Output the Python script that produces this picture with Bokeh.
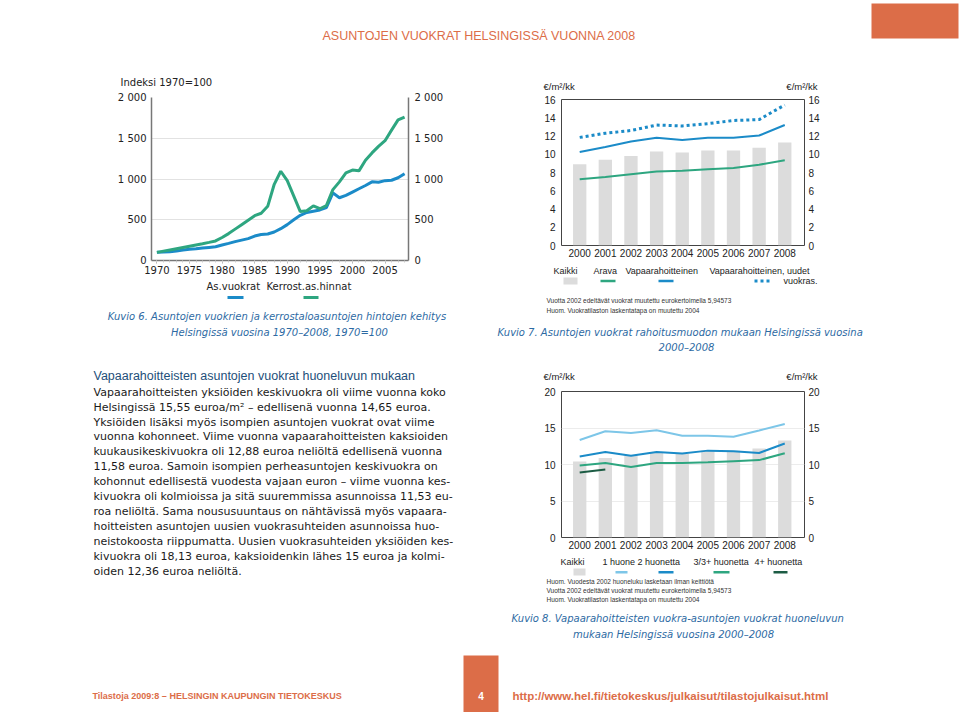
from bokeh.plotting import figure
from bokeh.models import Range1d, LinearAxis, FixedTicker
from bokeh.layouts import column, row
from bokeh.embed import file_html
from bokeh.resources import INLINE
from bokeh.core.properties import value

# ---------------- data ----------------
years_idx = list(range(1970, 2009))
rent_index = [100, 103, 108, 115, 128, 138, 143, 152, 160, 168,
              190, 210, 232, 250, 268, 300, 318, 325, 350, 390,
              440, 500, 555, 590, 605, 620, 650, 830, 770, 800,
              840, 880, 920, 965, 960, 980, 985, 1015, 1065]
price_index = [100, 115, 130, 145, 160, 175, 190, 205, 222, 240,
               282, 330, 385, 440, 495, 550, 580, 665, 935, 1095,
               980, 790, 600, 610, 670, 635, 675, 870, 965, 1075,
               1110, 1100, 1230, 1320, 1400, 1470, 1600, 1725, 1760]
idx_ticks = [0, 500, 1000, 1500, 2000]
idx_labels = {0: "0", 500: "500", 1000: "1 000", 1500: "1 500", 2000: "2 000"}

years = [2000, 2001, 2002, 2003, 2004, 2005, 2006, 2007, 2008]
kaikki7 = [8.9, 9.4, 9.8, 10.3, 10.2, 10.4, 10.4, 10.7, 11.3]
arava = [7.25, 7.5, 7.8, 8.1, 8.2, 8.35, 8.5, 8.85, 9.35]
vapaa = [10.25, 10.8, 11.4, 11.8, 11.55, 11.8, 11.8, 12.05, 13.2]
vapaa_uudet = [11.85, 12.3, 12.6, 13.2, 13.1, 13.35, 13.7, 13.8, 15.4]

kaikki8 = [10.4, 10.9, 11.3, 11.7, 11.45, 11.9, 11.9, 12.2, 13.3]
huone1 = [13.35, 14.55, 14.3, 14.7, 13.95, 13.95, 13.8, 14.65, 15.55]
huone2 = [11.1, 11.7, 11.2, 11.7, 11.5, 11.9, 11.8, 11.58, 12.88]
huone3 = [9.85, 10.2, 9.65, 10.2, 10.2, 10.3, 10.45, 10.6, 11.53]
years4 = [2000, 2001]
huone4 = [8.9, 9.3]

body_lines = [
    "Vapaarahoitteisten yksiöiden keskivuokra oli viime vuonna koko",
    "Helsingissä 15,55 euroa/m² – edellisenä vuonna 14,65 euroa.",
    "Yksiöiden lisäksi myös isompien asuntojen vuokrat ovat viime",
    "vuonna kohonneet. Viime vuonna vapaarahoitteisten kaksioiden",
    "kuukausikeskivuokra oli 12,88 euroa neliöltä edellisenä vuonna",
    "11,58 euroa. Samoin isompien perheasuntojen keskivuokra on",
    "kohonnut edellisestä vuodesta vajaan euron – viime vuonna kes-",
    "kivuokra oli kolmioissa ja sitä suuremmissa asunnoissa 11,53 eu-",
    "roa neliöltä. Sama noususuuntaus on nähtävissä myös vapaara-",
    "hoitteisten asuntojen uusien vuokrasuhteiden asunnoissa huo-",
    "neistokoosta riippumatta. Uusien vuokrasuhteiden yksiöiden kes-",
    "kivuokra oli 18,13 euroa, kaksioidenkin lähes 15 euroa ja kolmi-",
    "oiden 12,36 euroa neliöltä.",
]

# ---------------- styles ----------------
BLUE = "#1b8bc8"
GREEN = "#2ea680"
LBLUE = "#7dc6e8"
DGREEN = "#1c5c44"
BAR = "#dcdcdc"
ORANGE = "#dc6d48"
CAP = "#2d6aa3"
VER = "DejaVu Sans"
ARI = "Liberation Sans"


def canvas(x0, x1, y0, y1):
    p = figure(width=x1 - x0, height=y1 - y0, x_range=Range1d(x0, x1),
               y_range=Range1d(y1, y0), x_axis_type=None, y_axis_type=None,
               output_backend="svg", toolbar_location=None, min_border=0,
               frame_align=False)
    p.grid.visible = False
    p.outline_line_color = None
    return p


def put(p, x, y, s, size, color="#222222", font=VER, align="left", style="normal"):
    p.text(x=[x], y=[y], text=[s], text_font=value(font), text_font_size=size,
           text_color=color, text_align=align, text_baseline="middle",
           text_font_style=style)


def seg(p, x0, x1, y, color, width=3, dash="solid"):
    p.segment(x0=[x0], y0=[y], x1=[x1], y1=[y], line_color=color,
              line_width=width, line_dash=dash)


# ---------------- header ----------------
head = canvas(0, 960, 0, 60)
put(head, 322, 35, "ASUNTOJEN VUOKRAT HELSINGISSÄ VUONNA 2008", "12.5px", ORANGE, ARI)
head.quad(left=[871], right=[958], top=[3], bottom=[38], fill_color=ORANGE, line_color=None)

# ---------------- left column ----------------
strip1 = canvas(0, 492, 60, 88)
put(strip1, 120, 82, "Indeksi 1970=100", "10px", "#222222", VER)

p1 = figure(width=492, height=192, x_range=Range1d(1969.17, 2008.6),
            y_range=Range1d(0, 2000), output_backend="svg", toolbar_location=None,
            min_border_left=151, min_border_right=84, min_border_top=9,
            min_border_bottom=20, frame_align=False)
p1.outline_line_color = None
p1.xgrid.visible = False
p1.ygrid.ticker = FixedTicker(ticks=idx_ticks)
p1.ygrid.grid_line_color = "#e2e2e2"
p1.line(years_idx, rent_index, line_color=BLUE, line_width=3)
p1.line(years_idx, price_index, line_color=GREEN, line_width=3)
rax1 = LinearAxis()
p1.add_layout(rax1, "right")
for ax in (p1.yaxis[0], rax1):
    ax.ticker = FixedTicker(ticks=idx_ticks)
    ax.major_label_overrides = idx_labels
    ax.major_tick_out = 0
    ax.major_tick_in = 0
    ax.minor_tick_out = 0
    ax.minor_tick_in = 0
    ax.axis_line_color = "#777777"
    ax.axis_line_width = 1.5
    ax.major_label_text_font = VER
    ax.major_label_text_font_size = "10px"
    ax.major_label_text_color = "#222222"
p1.yaxis[0].major_label_standoff = 5
rax1.major_label_standoff = 6
xa1 = p1.xaxis[0]
xa1.ticker = FixedTicker(ticks=list(range(1970, 2006, 5)), minor_ticks=years_idx)
xa1.major_tick_out = 3
xa1.major_tick_in = 0
xa1.minor_tick_out = 2
xa1.minor_tick_in = 0
xa1.major_tick_line_color = "#aaaaaa"
xa1.minor_tick_line_color = "#cccccc"
xa1.axis_line_color = "#777777"
xa1.axis_line_width = 1.5
xa1.major_label_standoff = 2
xa1.major_label_text_font = VER
xa1.major_label_text_font_size = "10px"
xa1.major_label_text_color = "#222222"

left_txt = canvas(0, 492, 280, 650)
put(left_txt, 206, 286, "As.vuokrat", "10px", "#222222", VER)
put(left_txt, 266, 286, "Kerrost.as.hinnat", "10px", "#222222", VER)
seg(left_txt, 227, 243, 297, BLUE)
seg(left_txt, 303, 318, 297, GREEN)
put(left_txt, 278, 316, "Kuvio 6.  Asuntojen vuokrien ja kerrostaloasuntojen hintojen kehitys",
    "10px", CAP, VER, "center", "italic")
put(left_txt, 279, 331.5, "Helsingissä vuosina 1970–2008, 1970=100", "10px", CAP, VER,
    "center", "italic")
put(left_txt, 93, 375.5, "Vapaarahoitteisten asuntojen vuokrat huoneluvun mukaan", "12.5px",
    "#1e4f7a", ARI)
for i, line in enumerate(body_lines):
    put(left_txt, 93, 391.7 + i * 14.9, line, "11px", "#1a1a1a", VER)

left_col = column(strip1, p1, left_txt)

# ---------------- right column ----------------
def rent_chart(height, top, bottom, ymax, step, kaikki, series, grid):
    p = figure(width=468, height=height, x_range=Range1d(1999.29, 2008.77),
               y_range=Range1d(0, ymax), output_backend="svg", toolbar_location=None,
               min_border_left=69, min_border_right=156, min_border_top=top,
               min_border_bottom=bottom, frame_align=False)
    p.outline_line_color = "#444444"
    p.outline_line_width = 1
    p.xgrid.visible = False
    yt = list(range(0, ymax + 1, step))
    if grid:
        p.ygrid.ticker = FixedTicker(ticks=yt)
        p.ygrid.grid_line_color = "#ececec"
    else:
        p.ygrid.visible = False
    p.vbar(x=years, top=kaikki, width=0.52, fill_color=BAR, line_color=None)
    for xs, ys, col, w, dash in series:
        p.line(xs, ys, line_color=col, line_width=w, line_dash=dash)
    rax = LinearAxis()
    p.add_layout(rax, "right")
    for ax in (p.yaxis[0], rax):
        ax.ticker = FixedTicker(ticks=yt)
        ax.major_tick_out = 0
        ax.major_tick_in = 0
        ax.minor_tick_out = 0
        ax.minor_tick_in = 0
        ax.axis_line_color = None
        ax.major_label_text_font = ARI
        ax.major_label_text_font_size = "10px"
        ax.major_label_text_color = "#222222"
    p.yaxis[0].major_label_standoff = 6
    rax.major_label_standoff = 4
    xa = p.xaxis[0]
    xa.ticker = FixedTicker(ticks=years)
    xa.major_tick_out = 0
    xa.major_tick_in = 0
    xa.minor_tick_out = 0
    xa.minor_tick_in = 0
    xa.axis_line_color = None
    xa.major_label_standoff = 3
    xa.major_label_text_font = ARI
    xa.major_label_text_font_size = "10px"
    xa.major_label_text_color = "#222222"
    return p


strip2 = canvas(492, 960, 60, 92)
put(strip2, 543, 86, "€/m²/kk", "9.5px", "#222222", ARI)
put(strip2, 817, 86, "€/m²/kk", "9.5px", "#222222", ARI, "right")

p2 = rent_chart(170, 7, 17, 16, 2, kaikki7, [
    (years, arava, GREEN, 2, "solid"),
    (years, vapaa, BLUE, 2, "solid"),
    (years, vapaa_uudet, BLUE, 3, "3 3"),
], False)

r_txt1 = canvas(492, 960, 262, 383)
put(r_txt1, 553, 270, "Kaikki", "9px", "#222222", ARI)
put(r_txt1, 593, 270, "Arava", "9px", "#222222", ARI)
put(r_txt1, 625, 270, "Vapaarahoitteinen", "9px", "#222222", ARI)
put(r_txt1, 709, 270, "Vapaarahoitteinen, uudet", "9px", "#222222", ARI)
put(r_txt1, 817, 280, "vuokras.", "9px", "#222222", ARI, "right")
r_txt1.quad(left=[563], right=[577], top=[277], bottom=[284], fill_color=BAR, line_color=None)
seg(r_txt1, 600, 615, 280.5, GREEN, 2.5)
seg(r_txt1, 658, 673, 280.5, BLUE, 2.5)
seg(r_txt1, 754, 770, 280.5, BLUE, 3, "3 3")
put(r_txt1, 546, 300, "Vuotta 2002 edeltävät vuokrat muutettu eurokertoimella 5,94573", "6.5px",
    "#333333", ARI)
put(r_txt1, 546, 309.5, "Huom. Vuokratilaston laskentatapa on muutettu 2004", "6.5px",
    "#333333", ARI)
put(r_txt1, 497, 331.5, "Kuvio 7.  Asuntojen vuokrat rahoitusmuodon mukaan Helsingissä vuosina",
    "10px", CAP, VER, "left", "italic")
put(r_txt1, 686, 346.5, "2000–2008", "10px", CAP, VER, "center", "italic")
put(r_txt1, 543, 376, "€/m²/kk", "9.5px", "#222222", ARI)
put(r_txt1, 817, 376, "€/m²/kk", "9.5px", "#222222", ARI, "right")

p3 = rent_chart(172, 8, 18, 20, 5, kaikki8, [
    (years, huone1, LBLUE, 2, "solid"),
    (years, huone2, BLUE, 2, "solid"),
    (years, huone3, GREEN, 2, "solid"),
    (years4, huone4, DGREEN, 2, "solid"),
], True)

r_txt2 = canvas(492, 960, 555, 650)
put(r_txt2, 560, 561.7, "Kaikki", "9px", "#222222", ARI)
put(r_txt2, 602, 561.7, "1 huone", "9px", "#222222", ARI)
put(r_txt2, 637, 561.7, "2 huonetta", "9px", "#222222", ARI)
put(r_txt2, 693, 561.7, "3/3+ huonetta", "9px", "#222222", ARI)
put(r_txt2, 754, 561.7, "4+ huonetta", "9px", "#222222", ARI)
r_txt2.quad(left=[573], right=[585], top=[568], bottom=[575], fill_color=BAR, line_color=None)
seg(r_txt2, 615, 627, 571.7, LBLUE, 2.5)
seg(r_txt2, 658, 673, 571.7, BLUE, 2.5)
seg(r_txt2, 713, 729, 571.7, GREEN, 2.5)
seg(r_txt2, 773, 787, 571.7, DGREEN, 2.5)
put(r_txt2, 546, 580.7, "Huom. Vuodesta 2002 huoneluku lasketaan ilman keittiötä", "6.5px",
    "#333333", ARI)
put(r_txt2, 546, 590, "Vuotta 2002 edeltävät vuokrat muutettu eurokertoimella 5,94573", "6.5px",
    "#333333", ARI)
put(r_txt2, 546, 599.3, "Huom. Vuokratilaston laskentatapa on muutettu 2004", "6.5px",
    "#333333", ARI)
put(r_txt2, 511, 618, "Kuvio 8.  Vapaarahoitteisten vuokra-asuntojen vuokrat huoneluvun",
    "10px", CAP, VER, "left", "italic")
put(r_txt2, 673, 633.5, "mukaan Helsingissä vuosina 2000–2008", "10px", CAP, VER, "center",
    "italic")

right_col = column(strip2, p2, r_txt1, p3, r_txt2)

# ---------------- footer ----------------
foot = canvas(0, 960, 650, 712)
foot.quad(left=[463], right=[498], top=[655], bottom=[712], fill_color=ORANGE, line_color=None)
put(foot, 480.5, 695, "4", "10px", "white", ARI, "center", "bold")
put(foot, 92, 695, "Tilastoja 2009:8  –  HELSINGIN KAUPUNGIN TIETOKESKUS", "9px", ORANGE, ARI,
    "left", "bold")
put(foot, 512, 695, "http://www.hel.fi/tietokeskus/julkaisut/tilastojulkaisut.html", "11.5px",
    ORANGE, ARI, "left", "bold")

page = column(head, row(left_col, right_col), foot)

open("out.html", "w").write(file_html(page, INLINE))
